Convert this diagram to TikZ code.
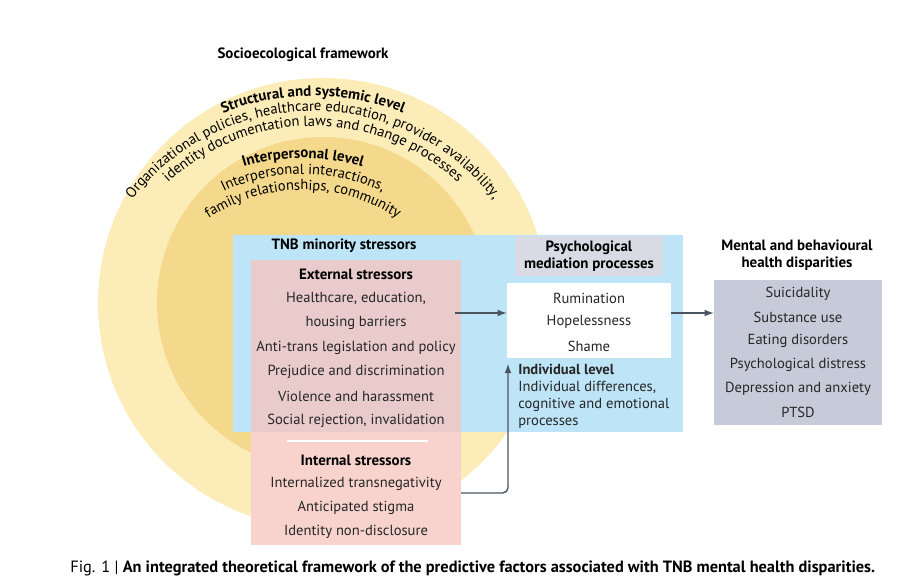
\documentclass[tikz,border=0pt]{standalone}
\usepackage{fontspec}
\setmainfont{PT Sans}
\usepackage{tikz}
\usetikzlibrary{calc}
\usetikzlibrary{positioning}
\usetikzlibrary{decorations.text}
\definecolor{outery}{HTML}{FCEDB8}
\definecolor{innery}{HTML}{F4D88C}
\definecolor{stressblue}{HTML}{BDE4F7}
\definecolor{extpink}{HTML}{E9CBCC}
\definecolor{intpink}{HTML}{F8D3CD}
\definecolor{psygray}{HTML}{D8DBE3}
\definecolor{outgray}{HTML}{C7CAD9}
\definecolor{arrowgray}{HTML}{4A5560}
\tikzset{
  txt/.style={font=\fontsize{8.3}{9.6}\selectfont,text=black!85,inner sep=0pt},
  head/.style={font=\fontsize{8.5}{9.8}\selectfont\bfseries,inner sep=0pt},
  flow/.style={arrowgray,thick,->,>=latex},
}
\begin{document}
\begin{tikzpicture}[x=0.02cm,y=0.02cm]
			\useasboundingbox (0,0) rectangle (916,588);
			%socioecological circles
			\coordinate (C) at (323,285);
			\fill[outery] (C) circle (225);
			\fill[innery] (C) circle (166);
			\node[head] (title) at (303,533) {Socioecological framework};
			%curved texts
			\coordinate (Co) at (313,248);
			\coordinate (Ci) at (303,228);
			\path[decorate,decoration={text along path,text align=center,
				text={|\fontsize{8.5}{9}\selectfont\bfseries|Structural and systemic level}}]
				($(Co)+(180:244)$) arc (180:0:244);
			\path[decorate,decoration={text along path,text align=center,
				text={|\fontsize{8.3}{9}\selectfont|Organizational policies, healthcare education, provider availability,}}]
				($(Co)+(180:229)$) arc (180:0:229);
			\path[decorate,decoration={text along path,text align=center,
				text={|\fontsize{8.3}{9}\selectfont|identity documentation laws and change processes}}]
				($(Co)+(180:214)$) arc (180:0:214);
			\path[decorate,decoration={text along path,text align=center,
				text={|\fontsize{8.5}{9}\selectfont\bfseries|Interpersonal level}}]
				($(Ci)+(180:202)$) arc (180:0:202);
			\path[decorate,decoration={text along path,text align=center,
				text={|\fontsize{8.3}{9}\selectfont|Interpersonal interactions,}}]
				($(Ci)+(180:186)$) arc (180:0:186);
			\path[decorate,decoration={text along path,text align=center,
				text={|\fontsize{8.3}{9}\selectfont|family relationships, community}}]
				($(Ci)+(180:170)$) arc (180:0:170);
			%stressor boxes
			\fill[stressblue] (233,156) rectangle (683,353);
			\fill[intpink] (251,43) rectangle (461,156);
			\fill[extpink] (251,156) rectangle (461,328);
			\draw[white,thick] (287,147)--(428,147);
			\node[head] (tnb) at (344,342) {TNB minority stressors};
			\node[head] (ext) at (356,314) {External stressors};
			\node[txt] (e1) at (356,290) {Healthcare, education,};
			\node[txt] (e2) at (356,265) {housing barriers};
			\node[txt] (e3) at (356,240) {Anti-trans legislation and policy};
			\node[txt] (e4) at (356,216) {Prejudice and discrimination};
			\node[txt] (e5) at (356,192) {Violence and harassment};
			\node[txt] (e6) at (356,167) {Social rejection, invalidation};
			\node[head] (int) at (356,128) {Internal stressors};
			\node[txt] (i1) at (356,104) {Internalized transnegativity};
			\node[txt] (i2) at (356,80) {Anticipated stigma};
			\node[txt] (i3) at (356,56) {Identity non-disclosure};
			%psychological mediation
			\fill[psygray] (515,312) rectangle (663,352);
			\node[head,align=center] (psy) at (589,332) {Psychological\\mediation processes};
			\node[fill=white,minimum width=164*0.02cm,minimum height=75*0.02cm,inner sep=0pt] (med) at (589,267.5) {};
			\node[txt] (m1) at (589,290) {Rumination};
			\node[txt] (m2) at (589,266) {Hopelessness};
			\node[txt] (m3) at (589,242) {Shame};
			\node[txt,align=left,anchor=north west] (ind) at (518,224)
				{\textbf{Individual level}\\Individual differences,\\cognitive and emotional\\processes};
			%health disparities
			\node[head,align=center] (mh) at (797,333) {Mental and behavioural\\health disparities};
			\node[fill=outgray,minimum width=168*0.02cm,minimum height=145*0.02cm,inner sep=0pt] (out) at (798,235.5) {};
			\node[txt] (o1) at (798,294) {Suicidality};
			\node[txt] (o2) at (798,271) {Substance use};
			\node[txt] (o3) at (798,247) {Eating disorders};
			\node[txt] (o4) at (798,223) {Psychological distress};
			\node[txt] (o5) at (798,199) {Depression and anxiety};
			\node[txt] (o6) at (798,176) {PTSD};
			%arrows
			\coordinate (a1) at (455,275);
			\coordinate (a2) at (508,95);
			\draw[flow] (a1)--(med.west|-a1);
			\draw[flow] (med.east|-a1)--(out.west|-a1);
			\draw[flow,rounded corners=3pt] (461,95)--(a2)--(a2|-ind.north);
			%caption
			\node[anchor=west,font=\fontsize{9.3}{10}\selectfont,inner sep=0pt] (cap) at (70,20)
				{Fig. 1 | \textbf{An integrated theoretical framework of the predictive factors associated with TNB mental health disparities.}};
		\end{tikzpicture}
\end{document}
